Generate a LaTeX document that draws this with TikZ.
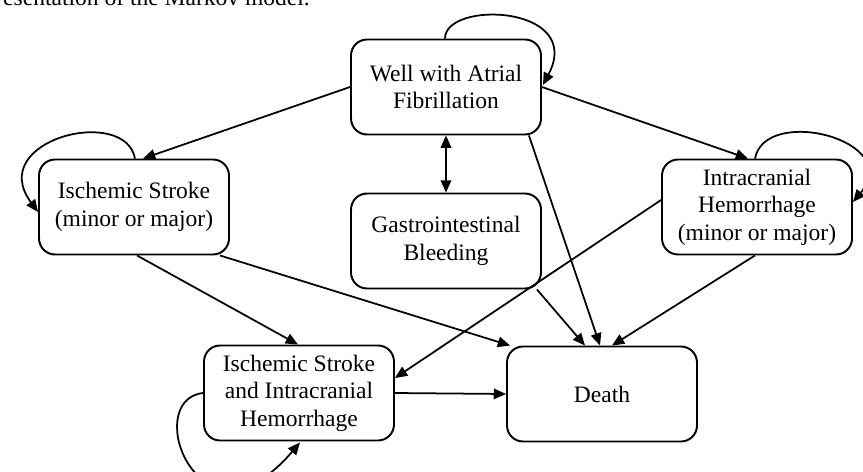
\documentclass[tikz,border=0pt]{standalone}
\usepackage{fontspec}
\setmainfont{Liberation Serif}
\usetikzlibrary{arrows.meta,calc}

\begin{document}
\begin{tikzpicture}[x=0.02cm,y=-0.02cm,
    state/.style={draw, line width=1.1pt, rounded corners=0.32cm, minimum width=3.8cm,
        minimum height=1.9cm, inner sep=0pt, align=center,
        font=\fontsize{13.4}{15.6}\selectfont},
    trans/.style={line width=1pt, -{Triangle[length=7pt,width=6pt]}}]
    \useasboundingbox (0,0) rectangle (863,471);
    \clip (0,0) rectangle (863,471);
    \node[anchor=base west, font=\fontsize{13.4}{15.6}\selectfont] (caption) at (-3,5) {esentation of the Markov model.};
    \node[state] (well) at (446,87) {Well with Atrial\\Fibrillation};
    \node[state] (ischemic) at (134,207) {Ischemic Stroke\\(minor or major)};
    \node[state] (ich) at (757,207) {Intracranial\\Hemorrhage\\(minor or major)};
    \node[state] (gib) at (446,241) {Gastrointestinal\\Bleeding};
    \node[state] (isich) at (299,393) {Ischemic Stroke\\and Intracranial\\Hemorrhage};
    \node[state] (death) at (602,394) {Death};
    \draw[trans] (well.west) -- ($(ischemic.north)+(9,0)$);
    \draw[trans] (well.east) -- ($(ich.north)+(-9,0)$);
    \draw[line width=1pt, {Triangle[length=7pt,width=6pt]}-{Triangle[length=7pt,width=6pt]}] (well.south) -- (gib.north);
    \draw[trans] ($(well.south east)+(-13,0)$) -- ($(death.north)+(-2,0)$);
    \draw[trans] ($(ischemic.south)+(3,0)$) -- ($(isich.north)+(-1,0)$);
    \draw[trans] ($(ischemic.south east)+(-10,0)$) -- ($(death.north west)+(4,0)$);
    \draw[trans] ($(gib.south east)+(-5,0)$) -- ($(death.north)+(-17,0)$);
    \draw[trans] ($(ich.south)+(-2,0)$) -- ($(death.north)+(10,0)$);
    \draw[trans] ($(ich.west)+(0,-7)$) -- ($(isich.east)+(0,-15)$);
    \draw[trans] (isich.east) -- (death.west);
    \draw[trans] ($(well.north)+(-1,0)$) .. controls (445,0) and (585,5) .. ($(well.east)+(1,-2)$);
    \draw[trans] ($(ischemic.north)+(1,0)$) .. controls (125,105) and (-15,140) .. ($(ischemic.west)+(0,5)$);
    \draw[trans] ($(ich.north)+(-2,0)$) .. controls (765,105) and (905,140) .. ($(ich.east)+(0,-5)$);
    \draw[trans] (isich.west) .. controls (140,400) and (200,560) .. ($(isich.south)+(1,1)$);
\end{tikzpicture}
\end{document}
